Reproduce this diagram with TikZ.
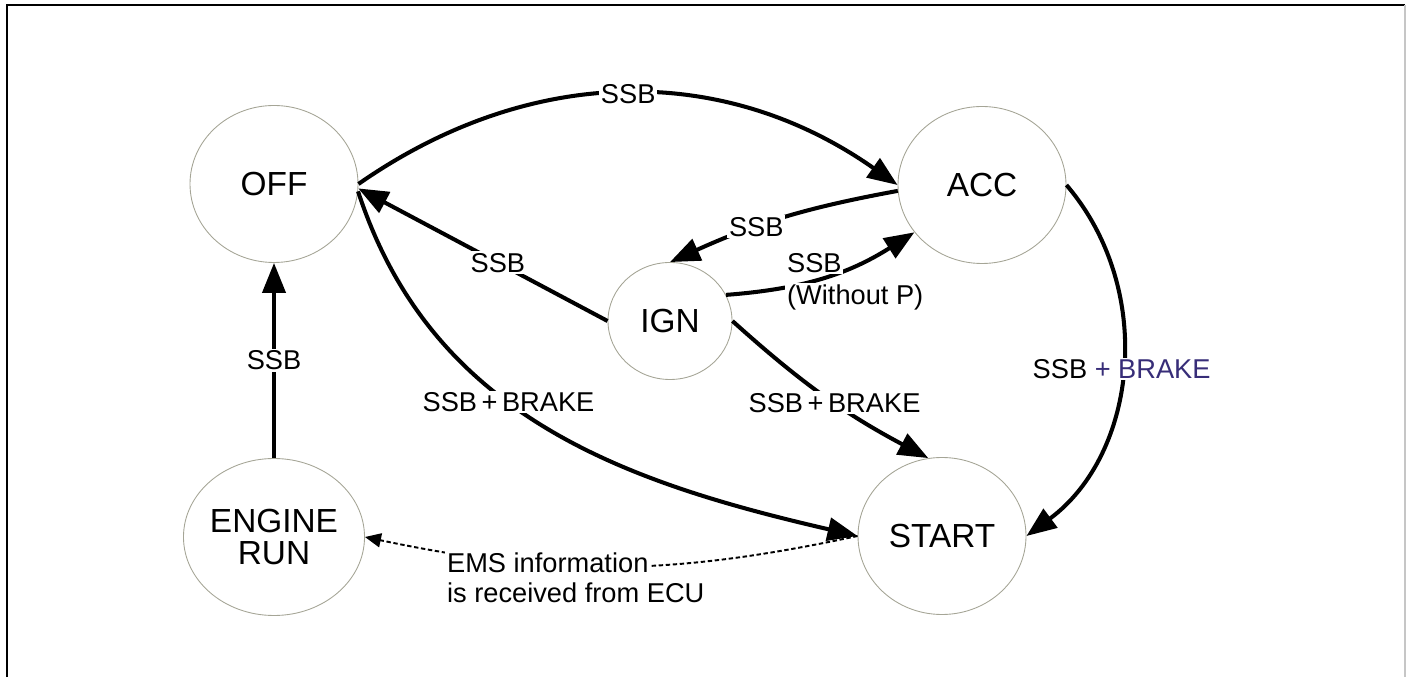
\documentclass[tikz,border=0pt]{standalone}
\usepackage{fontspec}
\setmainfont{Liberation Sans}
\usetikzlibrary{shapes.geometric,arrows.meta}
\definecolor{rimgray}{RGB}{165,165,150}
\definecolor{brakeblue}{RGB}{55,45,120}

\begin{document}
\begin{tikzpicture}[
    statenode/.style={ellipse, draw=rimgray, line width=0.5pt, inner sep=0pt,
        minimum width=3.36cm, minimum height=3.14cm, align=center,
        font=\fontsize{19}{18}\selectfont},
    trans/.style={line width=2.3pt, -{Triangle[length=0.6cm,width=0.46cm]}},
    info/.style={line width=1.1pt, dash pattern=on 2.5pt off 1.5pt,
        -{Triangle[length=0.32cm,width=0.28cm]}},
    lbl/.style={fill=white, inner sep=1pt, font=\fontsize{15.5}{17}\selectfont}
]
    \useasboundingbox (0,0) rectangle (28.18,13.54);

    % frame (open at the bottom)
    \draw[line width=1.3pt] (0.14,0) -- (0.14,13.44) -- (28.1,13.44);
    \draw[gray!45, line width=0.8pt] (28.1,13.44) -- (28.1,0);

    % states
    \node[statenode] (OFF) at (5.48,9.86) {OFF};
    \node[statenode] (ACC) at (19.64,9.84) {ACC};
    \node[statenode, minimum width=2.48cm, minimum height=2.34cm] (IGN) at (13.40,7.12) {IGN};
    \node[statenode] (RUN) at (5.48,2.80) {ENGINE\\RUN};
    \node[statenode] (START) at (18.84,2.82) {START};

    % SSB transitions
    \draw[trans] (OFF.east) to[bend left=35] node[lbl] {SSB} (ACC.west);
    \draw[trans] (ACC.184) to[bend right=7] node[lbl, pos=0.62] {SSB} (IGN.north);
    \draw[trans] (IGN.25) to[bend right=14] (ACC.215);
    \draw[trans] (IGN.west) -- node[lbl, pos=0.44] {SSB} (OFF.-3);
    \draw[trans] (RUN.north) -- node[lbl] {SSB} (OFF.south);

    % SSB + BRAKE transitions
    \draw[trans] (OFF.-5) to[out=-72, in=167] node[lbl, pos=0.42] {SSB\,+\,BRAKE} (START.west);
    \draw[trans] (IGN.east) to[bend right=7] node[lbl, pos=0.55] {SSB\,+\,BRAKE} (START.100);
    \draw[trans] (ACC.east) to[bend left=47] node[lbl] {SSB \textcolor{brakeblue}{+ BRAKE}} (START.east);

    % engine management info
    \draw[info] (START.west) to[bend left=12] (RUN.east);

    \node[lbl, anchor=west] (wsb) at (15.70,8.28) {SSB};
    \node[lbl, anchor=west] (wop) at (15.70,7.60) {(Without P)};
    \node[lbl, anchor=west] (ems1) at (8.90,2.28) {EMS information};
    \node[lbl, anchor=west] (ems2) at (8.90,1.68) {is received from ECU};
\end{tikzpicture}
\end{document}
